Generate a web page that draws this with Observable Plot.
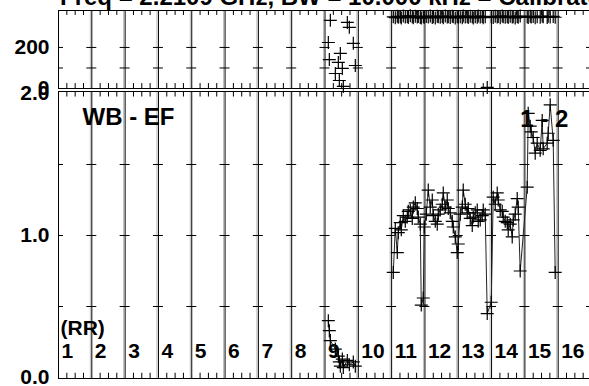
<!DOCTYPE html>
<html><head><meta charset="utf-8">
<script src="https://cdn.jsdelivr.net/npm/d3@7"></script>
<script src="https://cdn.jsdelivr.net/npm/@observablehq/plot@0.6"></script>
<style>
html,body{margin:0;padding:0;background:#fff;overflow:hidden;}
#wrap{position:relative;width:589px;height:386px;overflow:hidden;font-family:"Liberation Sans",Arial,sans-serif;}
#wrap svg{position:absolute;left:0;top:0;}
#title{position:absolute;left:60px;top:-15.5px;font-size:24px;line-height:24px;font-weight:bold;white-space:nowrap;color:#000;}
</style></head><body>
<div id="wrap"><div id="title"></div></div>
<script>
// ---- data (x in column units: column k spans [k-1, k]) ----
const titleText = "Freq = 2.2109 GHz, BW = 10.000 kHz = Calibrated";
const colLabels = ["1","2","3","4","5","6","7","8","9","10","11","12","13","14","15","16"];
const polLabel = "(RR)";
const leftLabel = "WB - EF";
const rightLabel = "1 - 2";
const ampTickLabels = [0, 1, 2];
const ampMinorTicks = [0.5, 1.0, 1.5];
const phaseTickLabels = [0, 200];
const phaseMinorTicks = [100, 200];

// segment in column 9
const seg9X     = [8.10, 8.13, 8.16, 8.31, 8.40, 8.43, 8.46, 8.52, 8.55, 8.67, 8.73, 8.85, 8.91];
const seg9Amp   = [0.40, 0.33, 0.26, 0.20, 0.15, 0.11, 0.08, 0.13, 0.07, 0.12, 0.09, 0.11, 0.08];
const seg9Phase = [224, 141, 332, 73, 127, 39, 171, 98, 10, 322, 298, 220, 112];

// segment in columns 11-15
const segBX = [10.05,10.11,10.17,10.20,10.26,10.29,10.35,10.41,10.47,10.50,10.56,10.62,10.65,10.71,10.77,10.80,10.86,10.89,10.95,10.98,
  11.04,11.10,11.16,11.22,11.25,11.31,11.37,11.40,11.46,11.52,11.55,11.61,11.67,11.70,11.76,11.82,11.85,11.91,11.97,12.00,
  12.06,12.12,12.15,12.21,12.27,12.30,12.36,12.42,12.45,12.51,12.57,12.60,12.66,12.72,12.75,12.81,12.87,12.99,
  13.05,13.11,13.17,13.20,13.26,13.32,13.35,13.41,13.47,13.50,13.56,13.62,13.65,13.71,13.77,13.80,13.86,
  14.07,14.10,14.16,14.19,14.25,14.31,14.37,14.46,14.52,14.55,14.67,14.70,14.76,14.85,14.91];
const segBAmp = [0.74,1.05,0.88,1.02,1.09,1.04,1.14,1.10,1.13,1.17,1.18,1.12,1.20,1.23,1.19,1.13,1.08,0.51,0.56,1.06,
  1.15,1.32,1.20,1.25,1.14,1.10,1.08,1.15,1.18,1.22,1.30,1.20,1.25,1.19,1.16,1.10,1.06,0.99,0.88,0.94,
  1.15,1.20,1.32,1.22,1.16,1.19,1.12,1.07,1.13,1.16,1.18,1.10,1.11,1.14,1.18,1.15,0.45,0.53,
  1.27,1.22,1.30,1.25,1.18,1.17,1.13,1.10,1.09,1.04,1.08,0.99,1.11,1.15,1.26,1.20,0.75,
  1.34,1.86,1.77,1.73,1.69,1.58,1.65,1.60,1.81,1.61,1.65,1.72,1.92,1.67,0.74];
const segBPhase = [349,345,352,347,350,344,353,348,351,346,354,349,345,352,348,351,346,343,350,347,
  351,348,353,346,350,344,352,349,347,351,345,353,348,350,346,352,349,344,351,347,
  350,345,353,348,351,346,352,349,344,350,347,353,348,351,345,350,5,349,
  346,352,348,351,345,353,349,347,351,346,352,348,350,344,351,347,353,
  349,346,352,348,351,345,350,347,353,349,346,352,348,351,347];

(function () {
  const rows = [];
  seg9X.forEach((x, i) => rows.push({seg: "a", x, amp: seg9Amp[i], phase: seg9Phase[i]}));
  segBX.forEach((x, i) => rows.push({seg: "b", x, amp: segBAmp[i], phase: segBPhase[i]}));

  const nCols = colLabels.length;
  const boundaries = d3.range(0, nCols + 1);
  const minorX = boundaries.slice(0, nCols).flatMap(k => [k + 0.25, k + 0.5, k + 0.75]);
  const crossTable = (vals) => boundaries.flatMap(k => vals.map(v => ({k, v})));

  const plusSymbol = {
    draw(ctx, size) {
      const r = Math.sqrt(size / Math.PI);
      ctx.moveTo(-r, 0); ctx.lineTo(r, 0);
      ctx.moveTo(0, -r); ctx.lineTo(0, r);
    }
  };

  const font = '"Liberation Sans", Arial, sans-serif';
  const dash = 0.15;

  // ---- bottom panel (amplitude) ----
  const ampDomain = [-0.007, 2.014];
  const bottomPlot = Plot.plot({
    width: 589, height: 386,
    marginLeft: 58, marginRight: -2, marginTop: 91, marginBottom: 8,
    style: {background: "transparent", overflow: "visible", fontFamily: font, color: "#000"},
    x: {domain: [0, nCols], axis: null},
    y: {domain: ampDomain},
    marks: [
      Plot.ruleX(boundaries.slice(1), {stroke: "#bbb", strokeWidth: 1, dx: -1.5}),
      Plot.ruleX(boundaries, {stroke: "#000", strokeWidth: 1}),
      Plot.ruleY(ampDomain, {stroke: "#000", strokeWidth: 1}),
      Plot.ruleX(minorX, {y1: ampDomain[0], y2: 0.03, stroke: "#000"}),
      Plot.ruleX(minorX, {y1: ampDomain[1], y2: 1.975, stroke: "#000"}),
      Plot.ruleY(crossTable(ampMinorTicks), {x1: d => Math.max(0, d.k - dash), x2: d => d.k + dash, y: "v", stroke: "#000"}),
      Plot.axisY(ampTickLabels, {tickSize: 0, tickPadding: 9, tickFormat: d => d.toFixed(1), fontSize: 21, fontWeight: "bold", label: null}),
      Plot.text(colLabels, {x: (d, i) => i, y: 0.185, text: d => d, textAnchor: "start", dx: 3, fontSize: 21, fontWeight: "bold"}),
      Plot.text([polLabel], {x: 0, y: 0.345, text: d => d, textAnchor: "start", dx: 2, fontSize: 21, fontWeight: "bold"}),
      Plot.text([leftLabel], {x: 0.72, y: 1.83, text: d => d, textAnchor: "start", fontSize: 24, fontWeight: "bold"}),
      Plot.text([rightLabel], {x: 13.86, y: 1.82, text: d => d, textAnchor: "start", fontSize: 24, fontWeight: "bold"}),
      Plot.line(rows, {x: "x", y: "amp", z: "seg", stroke: "#222", strokeWidth: 1}),
      Plot.dot(rows, {x: "x", y: "amp", symbol: plusSymbol, r: 6.5, fill: "none", stroke: "#000", strokeWidth: 1.2})
    ]
  });

  // ---- top panel (phase) ----
  const phaseDomain = [0, 380];
  const topPlot = Plot.plot({
    width: 589, height: 95,
    marginLeft: 58, marginRight: -2, marginTop: 10, marginBottom: 7,
    style: {background: "transparent", overflow: "visible", fontFamily: font, color: "#000"},
    x: {domain: [0, nCols], axis: null},
    y: {domain: phaseDomain},
    marks: [
      Plot.ruleX(boundaries.slice(1), {stroke: "#bbb", strokeWidth: 1, dx: -1.5}),
      Plot.ruleX(boundaries, {stroke: "#000", strokeWidth: 1}),
      Plot.ruleY(phaseDomain, {stroke: "#000", strokeWidth: 1}),
      Plot.ruleX(minorX, {y1: phaseDomain[0], y2: 24, stroke: "#000"}),
      Plot.ruleX(minorX, {y1: phaseDomain[1], y2: 356, stroke: "#000"}),
      Plot.ruleY(crossTable(phaseMinorTicks), {x1: d => Math.max(0, d.k - dash), x2: d => d.k + dash, y: "v", stroke: "#000"}),
      Plot.axisY(phaseTickLabels, {tickSize: 0, tickPadding: 9, tickFormat: d => String(d), fontSize: 21, fontWeight: "bold", label: null}),
      Plot.dot(rows, {x: "x", y: "phase", symbol: plusSymbol, r: 6.5, fill: "none", stroke: "#000", strokeWidth: 1.2})
    ]
  });

  const wrap = document.getElementById("wrap");
  document.getElementById("title").textContent = titleText;
  wrap.appendChild(bottomPlot);
  wrap.appendChild(topPlot);
})();
</script>
</body></html>
